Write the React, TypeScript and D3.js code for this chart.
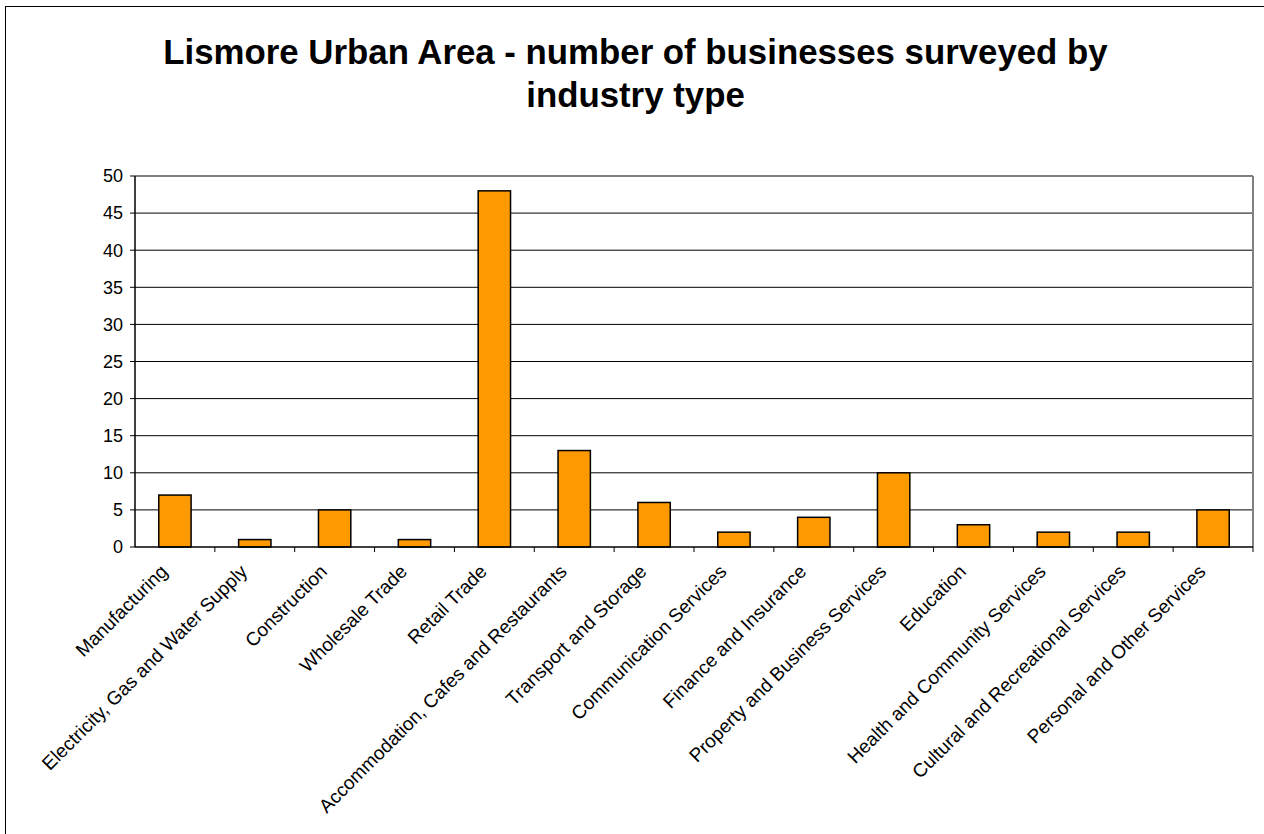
import React from "react";
import * as d3 from "d3";

const categories = [
  "Manufacturing",
  "Electricity, Gas and Water Supply",
  "Construction",
  "Wholesale Trade",
  "Retail Trade",
  "Accommodation, Cafes and Restaurants",
  "Transport and Storage",
  "Communication Services",
  "Finance and Insurance",
  "Property and Business Services",
  "Education",
  "Health and Community Services",
  "Cultural and Recreational Services",
  "Personal and Other Services",
];
const values = [7, 1, 5, 1, 48, 13, 6, 2, 4, 10, 3, 2, 2, 5];
const yTicks = [0, 5, 10, 15, 20, 25, 30, 35, 40, 45, 50];
const titleLines = [
  "Lismore Urban Area - number of businesses surveyed by",
  "industry type",
];

const W = 1264;
const H = 834;
const plot = { left: 135, right: 1253, top: 176, bottom: 547 };
const FONT = "'Liberation Sans', Arial, sans-serif";

export default function App() {
  const x = d3
    .scaleBand<string>()
    .domain(categories)
    .range([plot.left, plot.right])
    .paddingInner(0)
    .paddingOuter(0);
  const y = d3.scaleLinear().domain([0, 50]).range([plot.bottom, plot.top]);
  const bw = x.bandwidth() * 0.405;

  return (
    <svg
      width={W}
      height={H}
      style={{ position: "absolute", left: 0, top: 0, background: "#fff" }}
    >
      <rect x={0} y={0} width={W} height={H} fill="#fff" />
      <rect
        x={5.5}
        y={6.5}
        width={W + 50}
        height={H + 50}
        fill="none"
        stroke="#000"
        strokeWidth={1}
      />
      {titleLines.map((t, i) => (
        <text
          key={i}
          x={635.5}
          y={64 + i * 43}
          textAnchor="middle"
          fontFamily={FONT}
          fontWeight="bold"
          fontSize={34.8}
          fill="#000"
        >
          {t}
        </text>
      ))}
      {yTicks
        .filter((t) => t !== 0 && t !== 50)
        .map((t) => (
          <line
            key={t}
            x1={plot.left}
            x2={plot.right}
            y1={y(t)}
            y2={y(t)}
            stroke="#000"
            strokeWidth={1}
          />
        ))}
      <line
        x1={plot.left}
        x2={plot.right}
        y1={plot.top}
        y2={plot.top}
        stroke="#808080"
        strokeWidth={2}
      />
      <line
        x1={plot.right}
        x2={plot.right}
        y1={plot.top}
        y2={plot.bottom}
        stroke="#808080"
        strokeWidth={2}
      />
      {categories.map((c, i) => {
        const cx = (x(c) as number) + x.bandwidth() / 2;
        return (
          <rect
            key={c}
            x={cx - bw / 2}
            y={y(values[i])}
            width={bw}
            height={y(0) - y(values[i])}
            fill="#FF9900"
            stroke="#000"
            strokeWidth={1.5}
          />
        );
      })}
      <line
        x1={plot.left}
        x2={plot.left}
        y1={plot.top}
        y2={plot.bottom}
        stroke="#000"
        strokeWidth={1.5}
      />
      <line
        x1={plot.left}
        x2={plot.right}
        y1={plot.bottom}
        y2={plot.bottom}
        stroke="#000"
        strokeWidth={1.5}
      />
      {yTicks.map((t) => (
        <g key={t}>
          <line
            x1={plot.left - 5}
            x2={plot.left}
            y1={y(t)}
            y2={y(t)}
            stroke="#000"
            strokeWidth={1}
          />
          <text
            x={plot.left - 12}
            y={y(t)}
            dy="0.35em"
            textAnchor="end"
            fontFamily={FONT}
            fontSize={18}
            fill="#000"
          >
            {t}
          </text>
        </g>
      ))}
      {categories.map((c) => {
        const x0 = x(c) as number;
        return (
          <line
            key={"t" + c}
            x1={x0 + x.bandwidth()}
            x2={x0 + x.bandwidth()}
            y1={plot.bottom}
            y2={plot.bottom + 5}
            stroke="#000"
            strokeWidth={1}
          />
        );
      })}
      {categories.map((c) => {
        const cx = (x(c) as number) + x.bandwidth() / 2;
        return (
          <text
            key={"l" + c}
            transform={`translate(${cx - 11},${plot.bottom + 21}) rotate(-45)`}
            dy="0.35em"
            textAnchor="end"
            fontFamily={FONT}
            fontSize={19}
            fill="#000"
          >
            {c}
          </text>
        );
      })}
    </svg>
  );
}
